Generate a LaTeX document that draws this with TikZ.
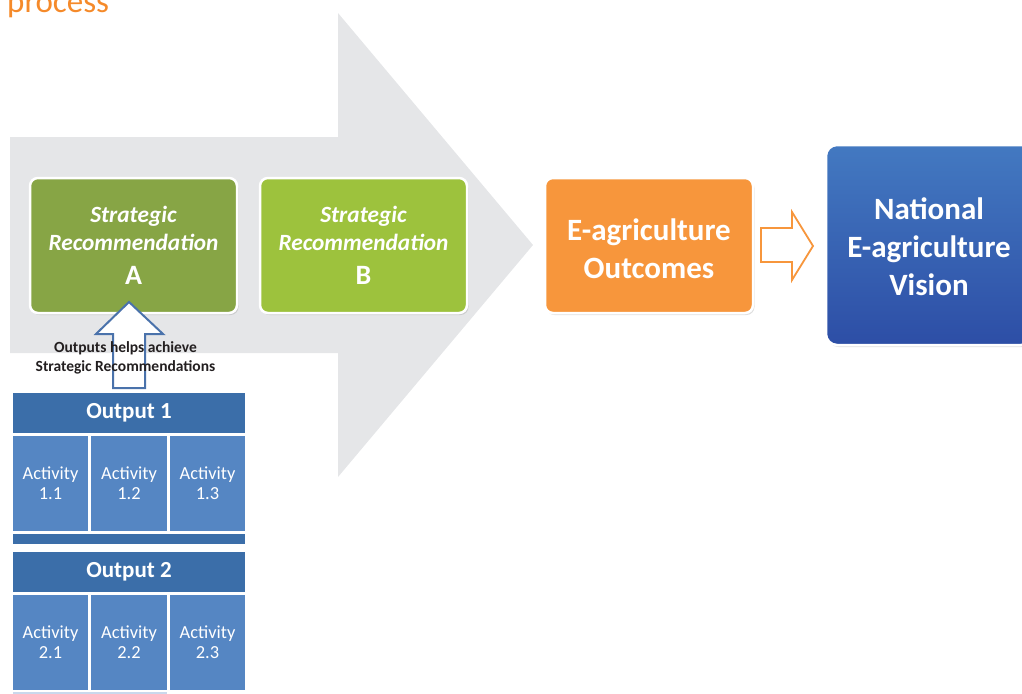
\documentclass[tikz,border=0pt]{standalone}
\usepackage{fontspec}
\setmainfont{Carlito}
\usetikzlibrary{shadows}
\definecolor{titleorange}{HTML}{F58A2A}
\definecolor{arrowgrey}{HTML}{E5E6E8}
\definecolor{greenA}{HTML}{87A545}
\definecolor{greenB}{HTML}{9DC23D}
\definecolor{outorange}{HTML}{F7963C}
\definecolor{visTop}{HTML}{4379C1}
\definecolor{visBot}{HTML}{2D4EA6}
\definecolor{hdrblue}{HTML}{3B6EA9}
\definecolor{actblue}{HTML}{5586C3}
\definecolor{lineblue}{HTML}{4A72AB}
\definecolor{lightblue}{HTML}{C9D8EC}
\definecolor{textdark}{HTML}{231F20}
\newcommand{\letterfont}{\upshape\fontsize{28}{30}\selectfont}
\begin{document}
\begin{tikzpicture}[x=1pt,y=-1pt,
  rbox/.style={draw=white, line width=2.5pt, rounded corners=8pt, text=white,
    align=center, inner sep=0pt,
    drop shadow={opacity=0.25, shadow xshift=1.5pt, shadow yshift=-2pt}},
  recbox/.style={rbox, minimum width=207pt, minimum height=135pt},
  hdr/.style={fill=hdrblue, text=white, inner sep=0pt, minimum width=232pt,
    minimum height=40pt, font=\bfseries\fontsize{23}{26}\selectfont},
  act/.style={fill=actblue, text=white, inner sep=0pt, align=center,
    minimum height=95pt, font=\fontsize{18.4}{20}\selectfont},
  strip/.style={fill=hdrblue, inner sep=0pt, minimum width=232pt, minimum height=10pt},
  rectext/.style={font=\bfseries\itshape\fontsize{23.3}{28}\selectfont},
  bigtext/.style={text=white, align=center, inner sep=0pt,
    font=\bfseries\fontsize{31}{38}\selectfont}
]
\useasboundingbox (0,0) rectangle (1022,693);
\clip (0,0) rectangle (1022,693);

% title fragment
\node[anchor=base west, text=titleorange, inner sep=0pt,
  font=\fontsize{33}{36}\selectfont] (title) at (7,13) {process};

% big grey arrow
\fill[arrowgrey] (10,137) -- (338,137) -- (338,13) -- (533,245) -- (338,477)
  -- (338,353) -- (10,353) -- cycle;

% strategic recommendation boxes
\node[recbox, rectext, fill=greenA] (recA) at (133.5,245.5)
  {Strategic\\Recommendation\\[6pt]{\letterfont A}};
\node[recbox, rectext, fill=greenB] (recB) at (363.5,245.5)
  {Strategic\\Recommendation\\[6pt]{\letterfont B}};

% outcomes
\node[recbox, fill=outorange, minimum width=208pt] (outc) at (649,245.5) {};
\node[bigtext] (outctext) at ([yshift=-3pt]outc.center)
  {E-agriculture\\Outcomes};

% vision
\node[rbox, rounded corners=11pt, top color=visTop, bottom color=visBot,
  minimum width=206pt, minimum height=200pt] (vision) at (929,245) {};
\node[bigtext] (visiontext) at ([yshift=-1.5pt]vision.center)
  {National\\E-agriculture\\Vision};

% orange block arrow between outcomes and vision
\draw[outorange, line width=1.8pt, fill=white, line join=miter]
  (761,228) -- (792,228) -- (792,212) -- (813,246) -- (792,280) -- (792,262)
  -- (761,262) -- cycle;

% blue up arrow
\draw[lineblue, line width=2pt, fill=white, line join=miter]
  (129,302) -- (163,334) -- (145,334) -- (145,388) -- (113,388) -- (113,334)
  -- (96,334) -- cycle;

\node[text=textdark, align=center, inner sep=0pt,
  font=\bfseries\fontsize{15.5}{19}\selectfont] (caption) at (125.5,358)
  {Outputs helps achieve\\Strategic Recommendations};

% output 1
\node[hdr] (out1) at (129,413) {Output 1};
\node[act, minimum width=75pt] (a11) at (50.5,483.5) {Activity\\1.1};
\node[act, minimum width=76pt] (a12) at (129,483.5) {Activity\\1.2};
\node[act, minimum width=75pt] (a13) at (207.5,483.5) {Activity\\1.3};
\node[strip] (strip1) at (129,539) {};

% output 2
\node[hdr] (out2) at (129,572) {Output 2};
\node[act, minimum width=75pt] (a21) at (50.5,642.5) {Activity\\2.1};
\node[act, minimum width=76pt] (a22) at (129,642.5) {Activity\\2.2};
\node[act, minimum width=75pt] (a23) at (207.5,642.5) {Activity\\2.3};
\fill[lightblue] (13,692) rectangle (167,694);
\end{tikzpicture}
\end{document}
